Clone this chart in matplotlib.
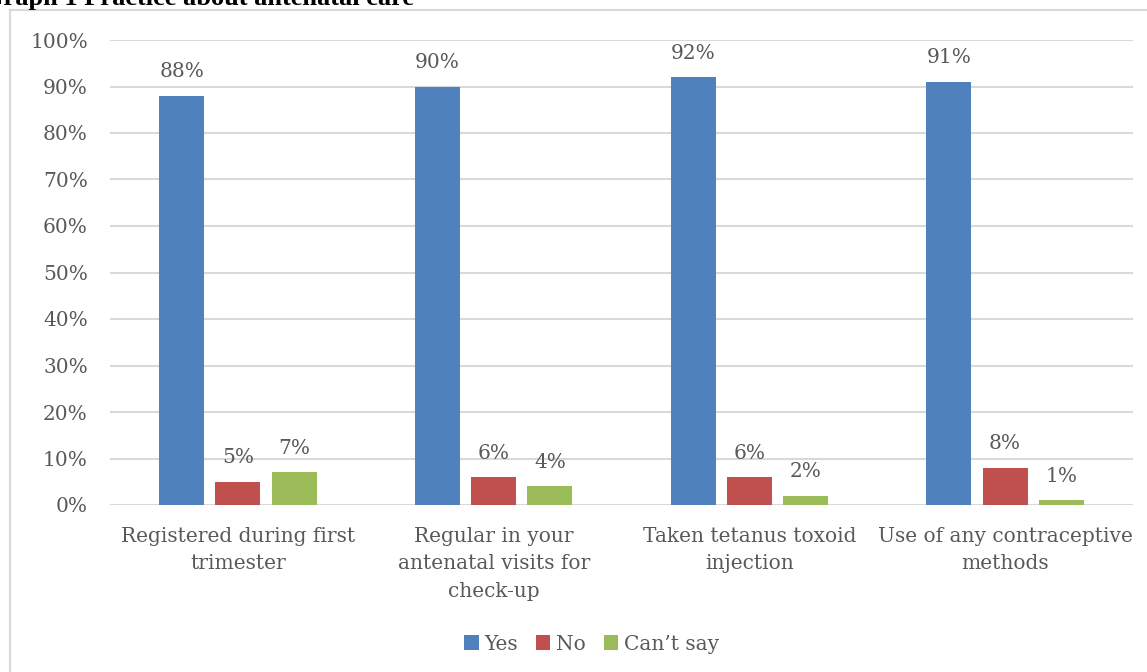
import numpy as np
import matplotlib
matplotlib.use('Agg')
import matplotlib.pyplot as plt
from matplotlib.lines import Line2D

categories = ['Registered during first\ntrimester',
              'Regular in your\nantenatal visits for\ncheck-up',
              'Taken tetanus toxoid\ninjection',
              'Use of any contraceptive\nmethods']
yes = [0.88, 0.90, 0.92, 0.91]
no = [0.05, 0.06, 0.06, 0.08]
cant_say = [0.07, 0.04, 0.02, 0.01]
series_names = ['Yes', 'No', 'Can\u2019t say']
colors = ['#4f81bd', '#c0504d', '#9bbb59']

txt = '#595959'
grid = '#d9d9d9'
font = 'DejaVu Serif'
fs = 14.5

W, H = 1147, 672
fig = plt.figure(figsize=(W / 100, H / 100), dpi=100)
ax = fig.add_axes([110 / W, 1 - 505 / H, 1023 / W, 465 / H])

x = np.arange(len(categories))
width = 0.176
step = 0.22
for i, (vals, name, c) in enumerate(zip([yes, no, cant_say], series_names, colors)):
    pos = x + (i - 1) * step
    bars = ax.bar(pos, vals, width, color=c, label=name, zorder=3)
    for b, v in zip(bars, vals):
        ax.text(b.get_x() + b.get_width() / 2, v + 0.031, '{:.0%}'.format(v),
                ha='center', va='bottom', fontsize=fs, color=txt, family=font)

ax.set_xlim(-0.5, 3.5)
ax.set_ylim(0, 1.0)
ax.set_yticks(np.arange(0, 1.01, 0.1))
ax.set_yticklabels(['{:.0%}'.format(t) for t in np.arange(0, 1.01, 0.1)])
ax.set_xticks(x)
ax.set_xticklabels(categories)
ax.grid(axis='y', color=grid, linewidth=1.5, zorder=0)
for s in ax.spines.values():
    s.set_visible(False)
ax.tick_params(length=0, colors=txt, labelsize=fs)
ax.tick_params(axis='y', pad=16)
ax.tick_params(axis='x', pad=16)
for lab in ax.get_xticklabels() + ax.get_yticklabels():
    lab.set_family(font)
for lab in ax.get_xticklabels():
    lab.set_linespacing(1.55)

leg = fig.legend(loc='center', bbox_to_anchor=(592 / W, 1 - 644 / H), ncol=3,
                 frameon=False, handlelength=0.7, handleheight=0.7,
                 handletextpad=0.3, columnspacing=0.9,
                 prop={'family': font, 'size': fs})
for t in leg.get_texts():
    t.set_color(txt)

# chart border (partly cropped)
fig.add_artist(Line2D([10 / W, 10 / W], [0, 1 - 10 / H], color=grid, lw=1.5,
                      transform=fig.transFigure))
fig.add_artist(Line2D([10 / W, 1], [1 - 10 / H, 1 - 10 / H], color=grid, lw=1.5,
                      transform=fig.transFigure))

fig.text(-17 / W, 1 - 5 / H, 'Graph 1 Practice about antenatal care',
         fontsize=19, fontweight='bold', family='Liberation Serif',
         va='baseline', ha='left', color='black')

fig.savefig('out.png', dpi=100)
